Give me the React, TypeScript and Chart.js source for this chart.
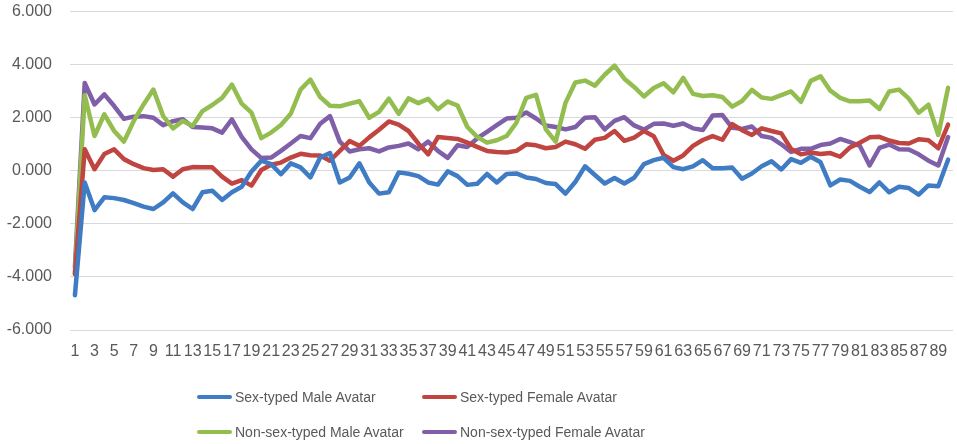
import React, { useEffect, useRef } from 'react';
import Chart from 'chart.js/auto';

// x categories 1..90
const categories: string[] = Array.from({ length: 90 }, (_, i) => String(i + 1));

const seriesNames = [
    'Sex-typed Male Avatar',
    'Sex-typed Female Avatar',
    'Non-sex-typed Male Avatar',
    'Non-sex-typed Female Avatar',
];
const seriesColors = ['#3F7CC4', '#C0443F', '#93BD4E', '#7F5FA8'];

const yTicks = [-6, -4, -2, 0, 2, 4, 6];

const sexTypedMale = [
    -4.69, -0.44, -1.48, -1.0, -1.03, -1.1, -1.22, -1.35, -1.44, -1.19,
    -0.85, -1.19, -1.44, -0.81, -0.75, -1.1, -0.81, -0.6, -0.03, 0.38,
    0.25, -0.13, 0.28, 0.13, -0.25, 0.5, 0.67, -0.44, -0.25, 0.28,
    -0.44, -0.86, -0.81, -0.06, -0.11, -0.2, -0.44, -0.52, -0.02, -0.2,
    -0.53, -0.49, -0.12, -0.44, -0.12, -0.1, -0.25, -0.31, -0.46, -0.5,
    -0.86, -0.42, 0.17, -0.16, -0.48, -0.27, -0.48, -0.26, 0.25, 0.4,
    0.49, 0.14, 0.06, 0.17, 0.4, 0.1, 0.1, 0.12, -0.3, -0.1,
    0.17, 0.36, 0.05, 0.44, 0.3, 0.53, 0.32, -0.55, -0.33, -0.38,
    -0.6, -0.8, -0.44, -0.81, -0.6, -0.65, -0.9, -0.55, -0.58, 0.42,
];

const sexTypedFemale = [
    -3.9, 0.81, 0.06, 0.63, 0.81, 0.44, 0.25, 0.1, 0.03, 0.06,
    -0.22, 0.06, 0.14, 0.13, 0.13, -0.22, -0.48, -0.35, -0.56, 0.03,
    0.23, 0.31, 0.5, 0.64, 0.59, 0.58, 0.38, 0.75, 1.12, 0.94,
    1.26, 1.55, 1.86, 1.74, 1.5, 1.03, 0.62, 1.27, 1.24, 1.2,
    1.06, 0.9, 0.75, 0.71, 0.69, 0.75, 1.0, 0.96, 0.85, 0.9,
    1.1, 1.0, 0.83, 1.17, 1.24, 1.5, 1.13, 1.25, 1.5, 1.3,
    0.6, 0.38, 0.58, 0.94, 1.16, 1.31, 1.17, 1.76, 1.53, 1.35,
    1.6, 1.5, 1.41, 0.82, 0.62, 0.69, 0.63, 0.67, 0.53, 0.88,
    1.06, 1.26, 1.28, 1.14, 1.05, 1.03, 1.19, 1.15, 0.85, 1.74,
];

const nonSexTypedMale = [
    -3.87, 2.85, 1.31, 2.13, 1.5, 1.1, 1.88, 2.5, 3.06, 2.06,
    1.6, 1.88, 1.69, 2.25, 2.48, 2.75, 3.25, 2.53, 2.19, 1.23,
    1.44, 1.73, 2.15, 3.06, 3.44, 2.78, 2.45, 2.43, 2.53, 2.62,
    2.0, 2.22, 2.72, 2.15, 2.73, 2.55, 2.71, 2.32, 2.61, 2.46,
    1.65, 1.28, 1.06, 1.15, 1.31, 1.81, 2.75, 2.86, 1.56, 1.1,
    2.56, 3.33, 3.4, 3.21, 3.62, 3.96, 3.47, 3.16, 2.8, 3.12,
    3.3, 2.96, 3.5, 2.9, 2.82, 2.85, 2.78, 2.42, 2.63, 3.05,
    2.76, 2.71, 2.85, 2.99, 2.6, 3.39, 3.56, 3.02, 2.75, 2.62,
    2.62, 2.65, 2.33, 2.99, 3.06, 2.72, 2.19, 2.49, 1.35, 3.13,
];

const nonSexTypedFemale = [
    -3.64, 3.31, 2.5, 2.88, 2.44, 1.96, 2.04, 2.06, 2.0, 1.72,
    1.87, 1.94, 1.65, 1.63, 1.6, 1.44, 1.94, 1.28, 0.81, 0.48,
    0.5, 0.75, 1.03, 1.31, 1.23, 1.77, 2.06, 1.1, 0.73, 0.81,
    0.85, 0.73, 0.88, 0.94, 1.03, 0.81, 1.1, 0.75, 0.49, 0.96,
    0.9, 1.22, 1.47, 1.72, 1.97, 2.0, 2.2, 1.97, 1.71, 1.65,
    1.56, 1.65, 2.0, 2.02, 1.56, 1.88, 2.02, 1.71, 1.55, 1.77,
    1.78, 1.7, 1.78, 1.6, 1.54, 2.08, 2.1, 1.62, 1.58, 1.67,
    1.31, 1.24, 1.0, 0.71, 0.83, 0.83, 0.97, 1.03, 1.2, 1.08,
    0.94, 0.2, 0.86, 0.99, 0.81, 0.8, 0.62, 0.38, 0.2, 1.27,
];

const seriesValues = [sexTypedMale, sexTypedFemale, nonSexTypedMale, nonSexTypedFemale];

const FONT = "'Liberation Sans', Arial, sans-serif";
const TEXT = '#595959';

// canvas is taller than the frame and shifted up, so the plot top lands at y=10
const SHIFT = 16;

export default function App() {
    const chartRef = useRef<HTMLCanvasElement>(null);
    const chartInstance = useRef<Chart | null>(null);

    useEffect(() => {
        document.body.style.margin = '0';
        if (!chartRef.current) return;
        if (chartInstance.current) chartInstance.current.destroy();

        chartInstance.current = new Chart(chartRef.current, {
            type: 'line',
            data: {
                labels: categories,
                datasets: seriesNames.map((name, k) => ({
                    label: name,
                    data: seriesValues[k],
                    borderColor: seriesColors[k],
                    backgroundColor: seriesColors[k],
                    borderWidth: 4.5,
                    pointRadius: 0,
                    tension: 0,
                    borderJoinStyle: 'round' as const,
                    borderCapStyle: 'round' as const,
                })),
            },
            options: {
                responsive: false,
                animation: false,
                layout: { padding: { top: 0, right: 4, left: 0, bottom: 0 } },
                plugins: {
                    legend: { display: false },
                    tooltip: { enabled: false },
                },
                scales: {
                    x: {
                        offset: true,
                        grid: { display: false },
                        border: { display: false },
                        ticks: {
                            autoSkip: false,
                            maxRotation: 0,
                            minRotation: 0,
                            padding: 4,
                            color: TEXT,
                            font: { family: FONT, size: 16 },
                            callback: (_v, i) => (i % 2 === 0 ? categories[i] : ''),
                        },
                        afterFit: (scale) => {
                            scale.height = 114;
                        },
                    },
                    y: {
                        min: yTicks[0],
                        max: yTicks[yTicks.length - 1],
                        grid: { color: '#D9D9D9', lineWidth: 1, drawTicks: false },
                        border: { display: false },
                        ticks: {
                            stepSize: 2,
                            padding: 18,
                            color: TEXT,
                            font: { family: FONT, size: 16 },
                            callback: (v) => Number(v).toFixed(3),
                        },
                        afterFit: (scale) => {
                            scale.width = 70;
                        },
                    },
                },
            },
        });

        return () => {
            if (chartInstance.current) {
                chartInstance.current.destroy();
                chartInstance.current = null;
            }
        };
    }, []);

    return (
        <div style={{ position: 'fixed', left: 0, top: 0, width: 957, height: 444, background: '#fff', overflow: 'hidden', fontFamily: FONT }}>
            <canvas
                ref={chartRef}
                width={957}
                height={444 + SHIFT}
                style={{ position: 'absolute', left: 0, top: -SHIFT, width: 957, height: 444 + SHIFT, display: 'block' }}
            ></canvas>
            {/* Legend: two rows, two columns */}
            {seriesNames.map((name, k) => (
                <div
                    key={name}
                    style={{
                        position: 'absolute',
                        left: k % 2 === 0 ? 197 : 422,
                        top: k < 2 ? 397 - 10 : 432 - 10,
                        height: 20,
                        display: 'flex',
                        alignItems: 'center',
                        whiteSpace: 'nowrap',
                        fontSize: 14,
                        color: TEXT,
                    }}
                >
                    <span style={{ display: 'inline-block', width: 35, height: 4, borderRadius: 2, background: seriesColors[k], marginRight: 3 }}></span>
                    {name}
                </div>
            ))}
        </div>
    );
}
